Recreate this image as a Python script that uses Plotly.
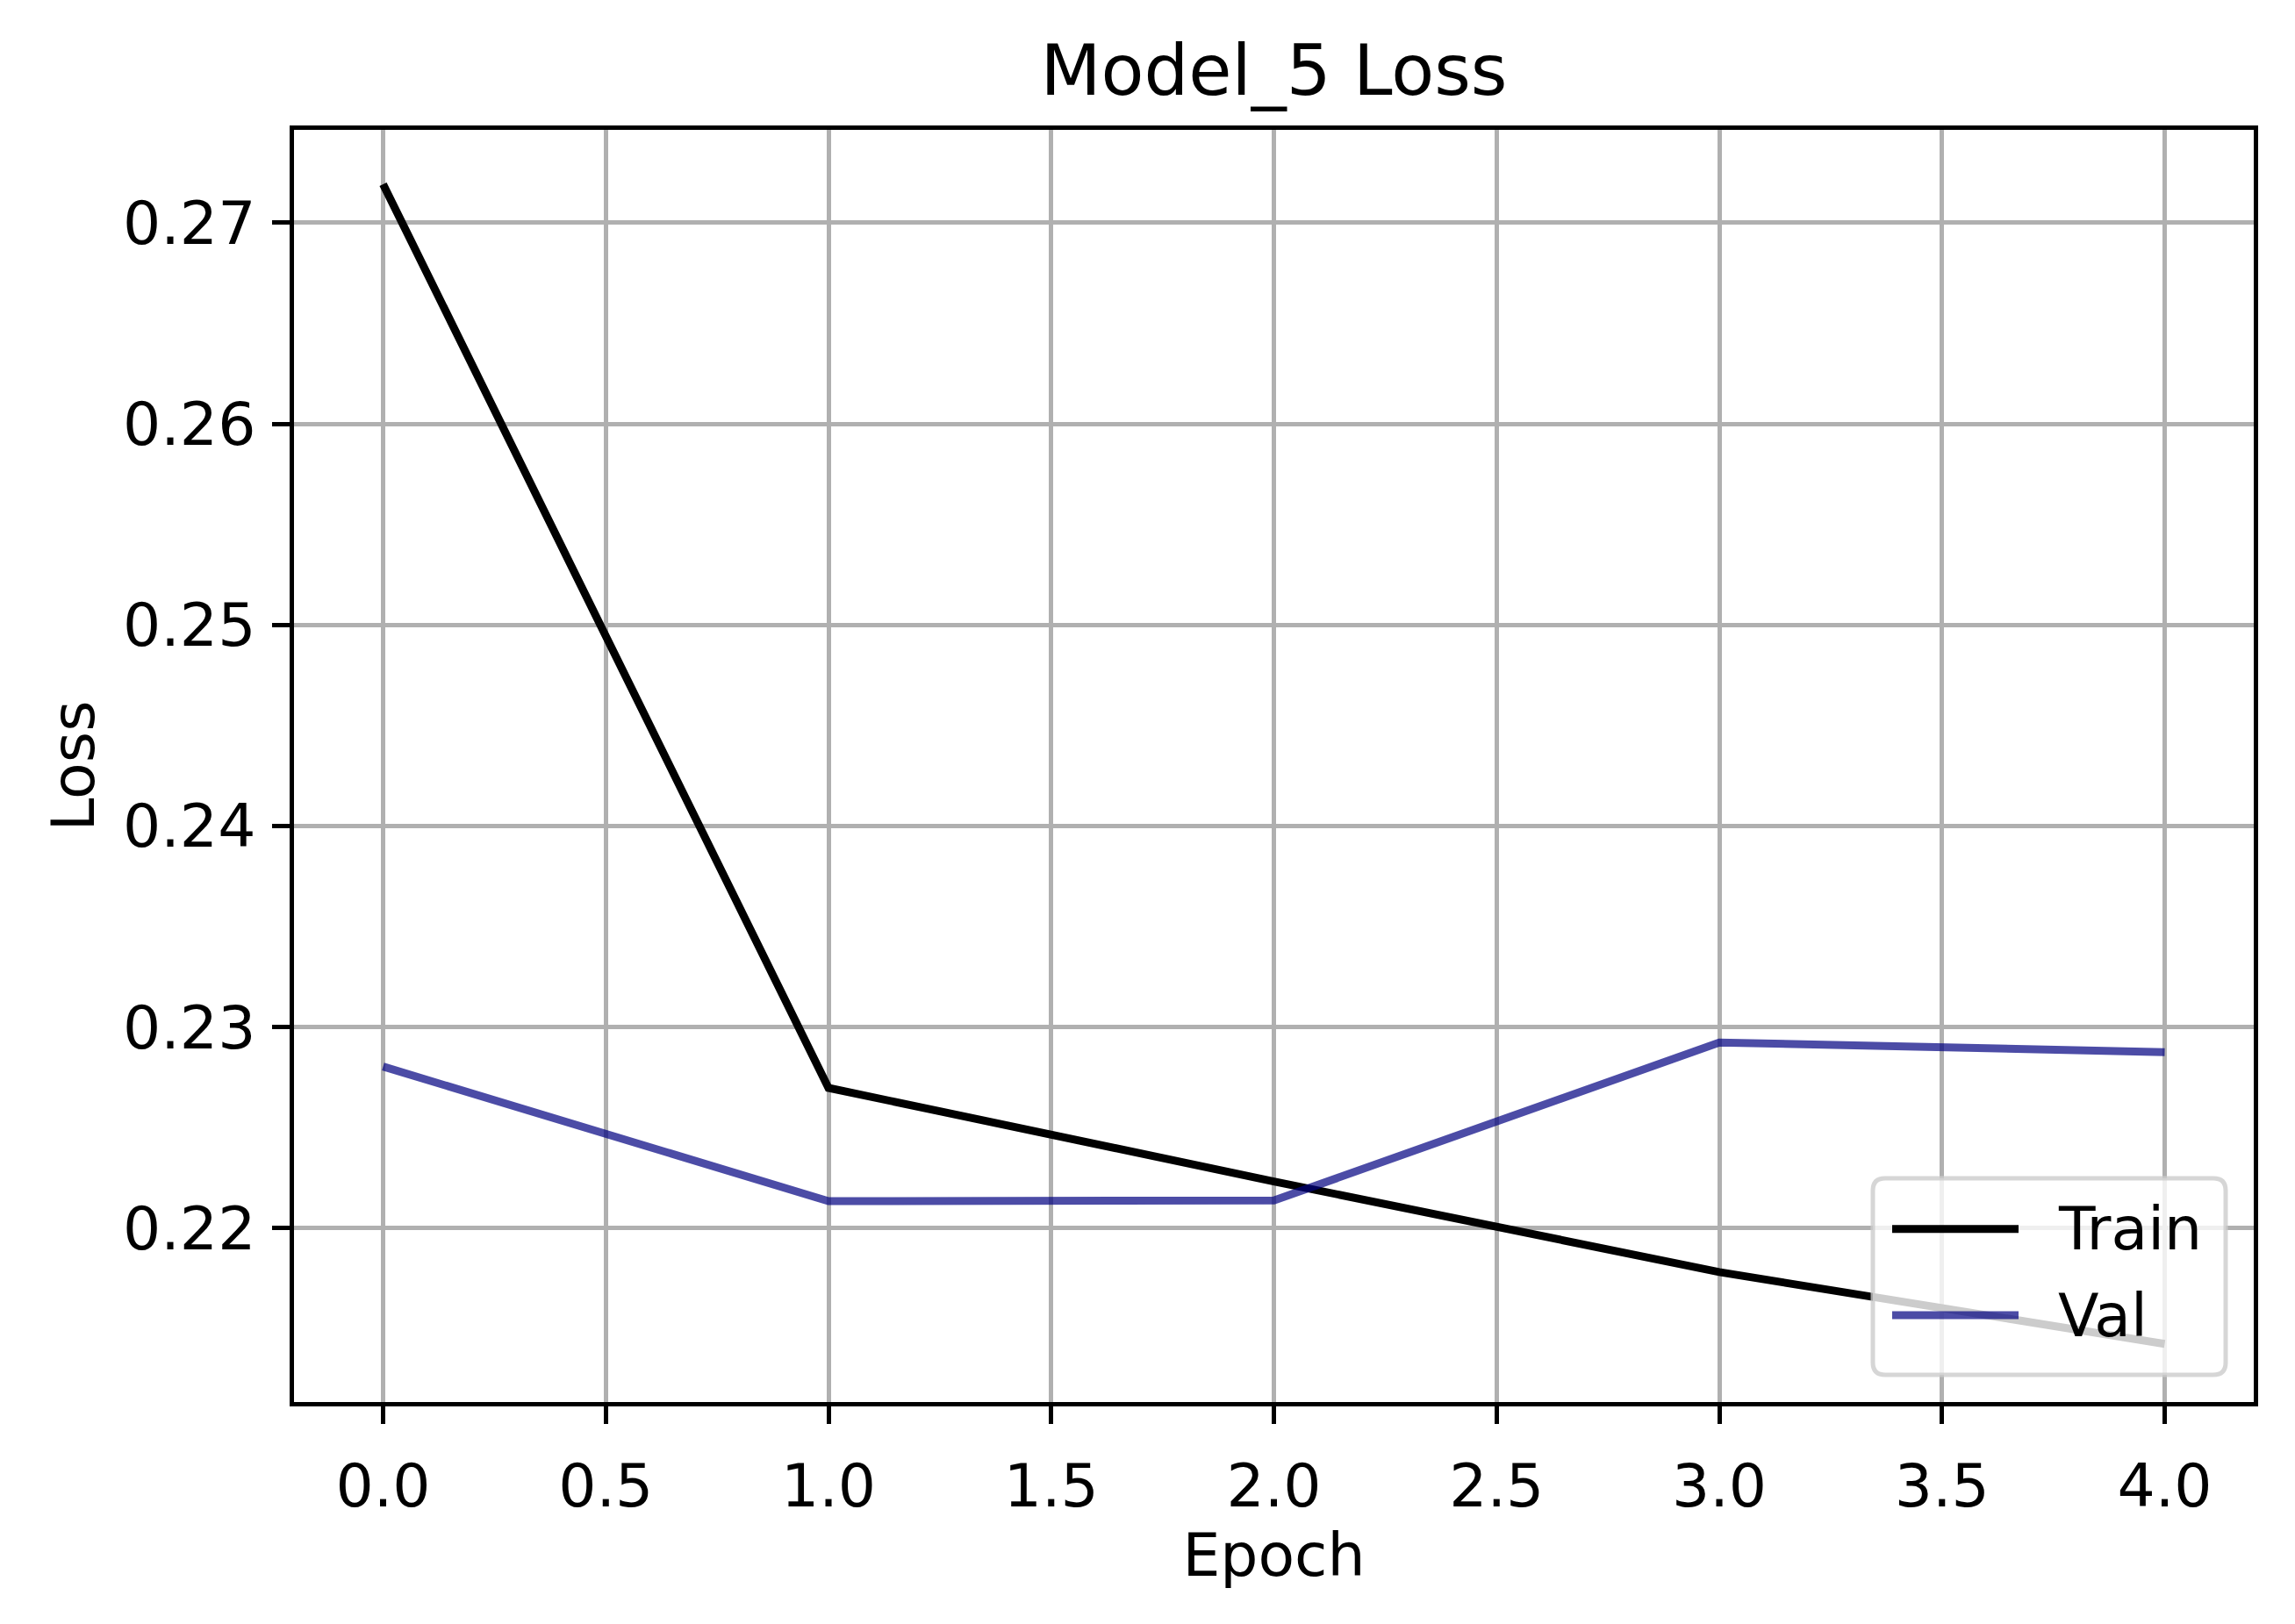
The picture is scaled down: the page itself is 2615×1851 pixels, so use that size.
import plotly.graph_objects as go

epochs = [0, 1, 2, 3, 4]
train_loss = [0.27192, 0.22698, 0.22233, 0.21782, 0.21425]
val_loss = [0.22804, 0.22135, 0.22138, 0.22924, 0.22876]
series_names = ["Train", "Val"]
x_ticks = [0, 0.5, 1, 1.5, 2, 2.5, 3, 3.5, 4]
y_ticks = [0.22, 0.23, 0.24, 0.25, 0.26, 0.27]

W, H = 2615, 1851
OFF = 8  # page body margin
L, R, T, B = 335, 2568, 148, 1598
FONT = "DejaVu Sans"
BLACK = "#000000"
VAL_COLOR = "rgba(0,0,128,0.7)"

fig = go.Figure()
fig.add_trace(go.Scatter(x=epochs, y=train_loss, mode="lines", name=series_names[0],
                         line=dict(color=BLACK, width=9), showlegend=False))
fig.add_trace(go.Scatter(x=epochs, y=val_loss, mode="lines", name=series_names[1],
                         line=dict(color=VAL_COLOR, width=9), showlegend=False))

def px_to_paper_x(px):
    return (px - L) / (R - L)

def px_to_paper_y(py):
    return (B - py) / (B - T)

# legend box (rounded) in paper coords
bx0, bx1, by0, by1 = 2134, 2536, 1343, 1567
r = 14
def P(x, y):
    return f"{px_to_paper_x(x):.6f},{px_to_paper_y(y):.6f}"
path = (f"M {P(bx0 + r, by0)} L {P(bx1 - r, by0)} Q {P(bx1, by0)} {P(bx1, by0 + r)} "
        f"L {P(bx1, by1 - r)} Q {P(bx1, by1)} {P(bx1 - r, by1)} "
        f"L {P(bx0 + r, by1)} Q {P(bx0, by1)} {P(bx0, by1 - r)} "
        f"L {P(bx0, by0 + r)} Q {P(bx0, by0)} {P(bx0 + r, by0)} Z")
shapes = [dict(type="path", path=path, xref="paper", yref="paper", layer="above",
               fillcolor="rgba(255,255,255,0.8)", line=dict(color="rgba(204,204,204,0.8)", width=5))]
annotations = []
legend_rows = [(series_names[0], BLACK, 1400.7), (series_names[1], VAL_COLOR, 1499)]
for name, color, ypx in legend_rows:
    shapes.append(dict(type="line", xref="paper", yref="paper", layer="above",
                       x0=px_to_paper_x(2156), x1=px_to_paper_x(2300),
                       y0=px_to_paper_y(ypx), y1=px_to_paper_y(ypx),
                       line=dict(color=color, width=9)))
    annotations.append(dict(text=name, xref="paper", yref="paper", x=px_to_paper_x(2343),
                            y=px_to_paper_y(ypx), xanchor="left", yanchor="middle",
                            showarrow=False, font=dict(family=FONT, size=68, color=BLACK)))

axis_common = dict(showline=True, mirror=True, linecolor=BLACK, linewidth=5,
                   showgrid=True, gridcolor="#b0b0b0", gridwidth=4.5,
                   ticks="outside", ticklen=20, tickwidth=4.5, tickcolor=BLACK,
                   zeroline=False, tickfont=dict(family=FONT, size=68, color=BLACK))

fig.update_layout(
    width=W, height=H,
    margin=dict(l=L - OFF, r=W - (R - OFF), t=T - OFF, b=H - (B - OFF), autoexpand=False),
    paper_bgcolor="white", plot_bgcolor="white",
    title=dict(text="Model_5 Loss", x=0.5, xref="paper", y=1 - (80 - OFF) / H, yref="container",
               xanchor="center", yanchor="middle", font=dict(family=FONT, size=80, color=BLACK)),
    xaxis=dict(range=[-0.2, 4.2], tickvals=x_ticks, ticktext=[f"{v:.1f}" for v in x_ticks],
               title=dict(text="Epoch", font=dict(family=FONT, size=68, color=BLACK), standoff=9),
               ticklabelstandoff=12, **axis_common),
    yaxis=dict(range=[0.21136, 0.27462], tickvals=y_ticks, ticktext=[f"{v:.2f}" for v in y_ticks],
               title=dict(text="Loss", font=dict(family=FONT, size=68, color=BLACK), standoff=12),
               ticklabelstandoff=5, **axis_common),
    shapes=shapes, annotations=annotations, showlegend=False,
)

fig.write_html("out.html")
